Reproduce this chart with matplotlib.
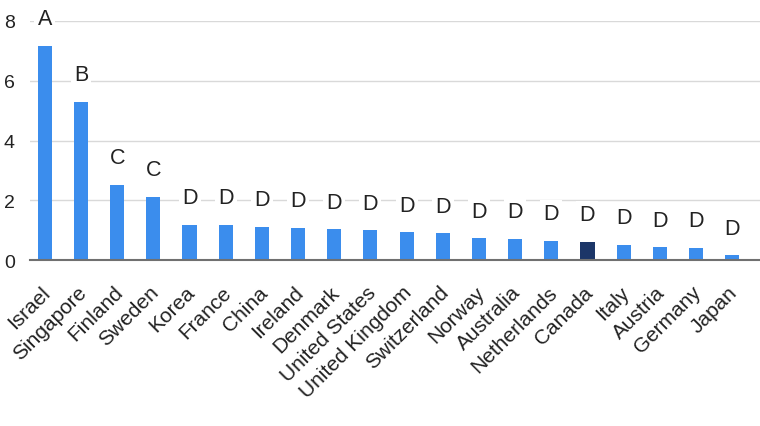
import matplotlib.pyplot as plt
import matplotlib.transforms as mtransforms

plt.rcParams['font.family'] = ['Liberation Sans', 'DejaVu Sans']

paises = ['Israel', 'Singapore', 'Finland', 'Sweden', 'Korea', 'France', 'China',
          'Ireland', 'Denmark', 'United States', 'United Kingdom', 'Switzerland',
          'Norway', 'Australia', 'Netherlands', 'Canada', 'Italy', 'Austria',
          'Germany', 'Japan']
valores = [7.16, 5.30, 2.51, 2.12, 1.18, 1.18, 1.10, 1.08, 1.03, 0.99, 0.93, 0.89,
           0.73, 0.70, 0.64, 0.60, 0.51, 0.42, 0.40, 0.16]
grupos = ['A', 'B', 'C', 'C', 'D', 'D', 'D', 'D', 'D', 'D', 'D', 'D', 'D', 'D', 'D',
          'D', 'D', 'D', 'D', 'D']
destacado = 'Canada'

azul = '#3b8ded'
marino = '#1c3668'
colores = [marino if p == destacado else azul for p in paises]

fig = plt.figure(figsize=(7.6, 4.27), dpi=100)
ax = fig.add_axes([30 / 760, 166 / 427, 730 / 760, 239 / 427])

x = list(range(len(paises)))
barras = ax.bar(x, valores, width=0.39, color=colores, zorder=2)

# letras sobre cada barra, con fondo blanco que corta la grilla
for xi, v, g in zip(x, valores, grupos):
    ax.annotate(g, (xi, v), xytext=(0, 12), textcoords='offset points',
                ha='center', va='bottom', fontsize=15.5, color='#222222',
                bbox=dict(boxstyle='square,pad=0.15', fc='white', ec='none'),
                zorder=3, annotation_clip=False)

ax.set_xlim(-0.41, 19.77)
ax.set_ylim(0, 8)
ax.set_yticks([0, 2, 4, 6, 8])
ax.yaxis.grid(True, color='#d9d9d9', linewidth=1, zorder=0)
ax.set_axisbelow(True)

for lado in ['top', 'right', 'left']:
    ax.spines[lado].set_visible(False)
ax.spines['bottom'].set_color('#707070')
ax.spines['bottom'].set_linewidth(1.5)
ax.spines['bottom'].set_zorder(4)

ax.tick_params(axis='y', length=0, pad=11, labelsize=14, labelcolor='#222222')
ax.tick_params(axis='x', length=0, pad=16)
ax.set_xticks(x)
ax.set_xticklabels(paises, rotation=45, ha='right', va='top',
                   rotation_mode='anchor', fontsize=15, color='#222222')
desplaza = mtransforms.ScaledTranslation(-3 / 72, 0, fig.dpi_scale_trans)
for lbl in ax.get_xticklabels():
    lbl.set_transform(lbl.get_transform() + desplaza)

fig.savefig('out.png', dpi=100)
